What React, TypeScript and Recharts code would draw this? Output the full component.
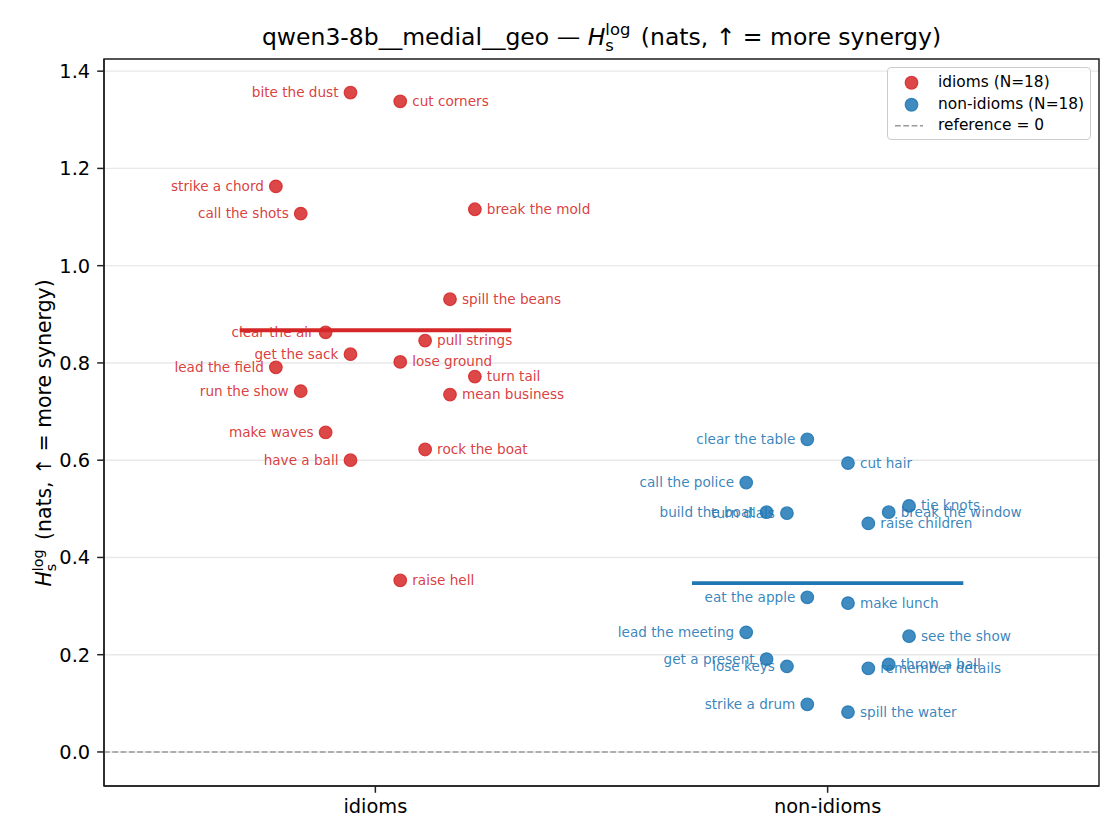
import React from 'react';
import {
  ScatterChart,
  Scatter,
  XAxis,
  YAxis,
  CartesianGrid,
  ReferenceLine,
  ReferenceArea,
} from 'recharts';

// ---------- data ----------
const categories = ['idioms', 'non-idioms'];

const idiomLabels = [
  'bite the dust', 'cut corners', 'strike a chord', 'call the shots', 'break the mold',
  'spill the beans', 'clear the air', 'pull strings', 'get the sack', 'lose ground',
  'lead the field', 'turn tail', 'run the show', 'mean business', 'make waves',
  'rock the boat', 'have a ball', 'raise hell',
];
const idiomValues = [
  1.356, 1.338, 1.163, 1.107, 1.116,
  0.931, 0.863, 0.846, 0.818, 0.802,
  0.791, 0.772, 0.742, 0.735, 0.657,
  0.622, 0.600, 0.353,
];
const idiomJitter = [
  -0.055, 0.055, -0.22, -0.165, 0.22,
  0.165, -0.11, 0.11, -0.055, 0.055,
  -0.22, 0.22, -0.165, 0.165, -0.11,
  0.11, -0.055, 0.055,
];

const nonIdiomLabels = [
  'clear the table', 'cut hair', 'call the police', 'build the boat', 'turn dials',
  'tie knots', 'break the window', 'raise children', 'eat the apple', 'make lunch',
  'lead the meeting', 'see the show', 'get a present', 'lose keys', 'throw a ball',
  'remember details', 'strike a drum', 'spill the water',
];
const nonIdiomValues = [
  0.643, 0.594, 0.554, 0.493, 0.491,
  0.506, 0.493, 0.470, 0.318, 0.306,
  0.246, 0.238, 0.191, 0.176, 0.180,
  0.172, 0.098, 0.082,
];
const nonIdiomJitter = [
  -0.045, 0.045, -0.18, -0.135, -0.09,
  0.18, 0.135, 0.09, -0.045, 0.045,
  -0.18, 0.18, -0.135, -0.09, 0.135,
  0.09, -0.045, 0.045,
];

const xTicks = [0, 1];
const yTicks = [0, 0.2, 0.4, 0.6, 0.8, 1.0, 1.2, 1.4];
const xDomain = [-0.6, 1.6];
const yDomain = [-0.07, 1.425];
const referenceValue = 0;
const meanHalfWidth = 0.3;

// ---------- styles ----------
const RED = '#d62728';
const BLUE = '#1f77b4';
const FONT = '"DejaVu Sans", "Liberation Sans", sans-serif';
const AXIS = '#222222';

type Pt = { x: number; y: number; label: string; left: boolean };

const buildPoints = (labels: string[], values: number[], jitter: number[], cat: number): Pt[] =>
  labels.map((label, i) => ({ x: cat + jitter[i], y: values[i], label, left: jitter[i] < 0 }));

const mean = (v: number[]) => v.reduce((a, b) => a + b, 0) / v.length;

const idiomPoints = buildPoints(idiomLabels, idiomValues, idiomJitter, 0);
const nonIdiomPoints = buildPoints(nonIdiomLabels, nonIdiomValues, nonIdiomJitter, 1);
const idiomMean = mean(idiomValues);
const nonIdiomMean = mean(nonIdiomValues);

const makeShape = (color: string) => (props: any) => {
  const { cx, cy, payload } = props;
  if (cx == null || cy == null) return null;
  const left = payload.left;
  return (
    <g>
      <circle
        cx={cx}
        cy={cy}
        r={6.3}
        fill={color}
        fillOpacity={0.85}
        stroke={color}
        strokeOpacity={0.85}
        strokeWidth={1.2}
      />
      <text
        x={left ? cx - 12 : cx + 12}
        y={cy}
        dy="0.33em"
        textAnchor={left ? 'end' : 'start'}
        fontSize={13.6}
        fontFamily={FONT}
        fill={color}
        fillOpacity={0.9}
      >
        {payload.label}
      </text>
    </g>
  );
};

const legendItems = [
  { kind: 'dot', color: RED, text: `${categories[0]} (N=${idiomValues.length})` },
  { kind: 'dot', color: BLUE, text: `${categories[1]} (N=${nonIdiomValues.length})` },
  { kind: 'dash', color: '#999999', text: `reference = ${referenceValue}` },
];

export default function App() {
  return (
    <div style={{ position: 'absolute', left: 0, top: 0, width: 1120, height: 840, background: '#fff' }}>
      <ScatterChart
        width={1120}
        height={840}
        margin={{ top: 59, right: 21, bottom: 14, left: 0 }}
      >
        <CartesianGrid vertical={false} stroke="#e8e8e8" strokeWidth={1.4} />
        <XAxis
          type="number"
          dataKey="x"
          domain={xDomain}
          ticks={xTicks}
          interval={0}
          allowDataOverflow
          tickFormatter={(v: number) => categories[Math.round(v)] ?? ''}
          height={40}
          tickSize={6.8}
          tickMargin={6}
          tick={{ fontSize: 19.4, fill: '#000', fontFamily: FONT }}
          axisLine={{ stroke: AXIS, strokeWidth: 1.5 }}
          tickLine={{ stroke: AXIS, strokeWidth: 1.5 }}
        />
        <YAxis
          type="number"
          dataKey="y"
          domain={yDomain}
          ticks={yTicks}
          interval={0}
          allowDataOverflow
          tickFormatter={(v: number) => v.toFixed(1)}
          width={104}
          tickSize={6.8}
          tickMargin={7}
          tick={{ fontSize: 19.4, fill: '#000', fontFamily: FONT }}
          axisLine={{ stroke: AXIS, strokeWidth: 1.5 }}
          tickLine={{ stroke: AXIS, strokeWidth: 1.5 }}
        />
        <ReferenceLine
          y={referenceValue}
          stroke="#999999"
          strokeWidth={1.5}
          strokeDasharray="5.8 2.5"
          ifOverflow="visible"
        />
        <ReferenceLine
          segment={[
            { x: 0 - meanHalfWidth, y: idiomMean },
            { x: 0 + meanHalfWidth, y: idiomMean },
          ]}
          stroke={RED}
          strokeWidth={3.9}
          ifOverflow="visible"
        />
        <ReferenceLine
          segment={[
            { x: 1 - meanHalfWidth, y: nonIdiomMean },
            { x: 1 + meanHalfWidth, y: nonIdiomMean },
          ]}
          stroke={BLUE}
          strokeWidth={3.9}
          ifOverflow="visible"
        />
        <Scatter
          name="idioms"
          data={idiomPoints}
          fill={RED}
          shape={makeShape(RED)}
          isAnimationActive={false}
        />
        <Scatter
          name="non-idioms"
          data={nonIdiomPoints}
          fill={BLUE}
          shape={makeShape(BLUE)}
          isAnimationActive={false}
        />
        <ReferenceArea
          x1={xDomain[0]}
          x2={xDomain[1]}
          y1={yDomain[0]}
          y2={yDomain[1]}
          fill="none"
          fillOpacity={0}
          stroke={AXIS}
          strokeWidth={1.5}
          ifOverflow="visible"
        />
      </ScatterChart>

      <svg
        width={1120}
        height={840}
        style={{ position: 'absolute', left: 0, top: 0, pointerEvents: 'none' }}
      >
        <text x={601.5} y={45} textAnchor="middle" fontSize={23.5} fontFamily={FONT} fill="#000">
          <tspan>qwen3-8b__medial__geo — </tspan>
          <tspan fontStyle="italic">H</tspan>
          <tspan fontSize={16.4} dy={6}>s</tspan>
          <tspan fontSize={16.4} dx={-8.5} dy={-16}>log</tspan>
          <tspan dy={10} dx={3}> (nats, ↑ = more synergy)</tspan>
        </text>
        <text
          transform="translate(51, 433) rotate(-90)"
          x={0}
          y={0}
          textAnchor="middle"
          fontSize={20.4}
          fontFamily={FONT}
          fill="#000"
        >
          <tspan fontStyle="italic">H</tspan>
          <tspan fontSize={14.3} dy={5}>s</tspan>
          <tspan fontSize={14.3} dx={-7.4} dy={-13.5}>log</tspan>
          <tspan dy={8.5} dx={3}> (nats, ↑ = more synergy)</tspan>
        </text>
      </svg>

      <div
        style={{
          position: 'absolute',
          left: 887,
          top: 67,
          width: 204,
          height: 73,
          boxSizing: 'border-box',
          border: '1.3px solid #cccccc',
          borderRadius: 4,
          background: 'rgba(255,255,255,0.8)',
          fontFamily: FONT,
          fontSize: 15.4,
          color: '#000',
        }}
      >
        {legendItems.map((it, i) => (
          <div
            key={it.text}
            style={{
              position: 'absolute',
              left: 0,
              top: 15 - 10.75 + i * 21.5,
              height: 21.5,
              width: '100%',
              display: 'flex',
              alignItems: 'center',
            }}
          >
            <svg width={50} height={21.5} style={{ flex: 'none' }}>
              {it.kind === 'dot' ? (
                <circle
                  cx={23.5}
                  cy={10.75}
                  r={6.3}
                  fill={it.color}
                  fillOpacity={0.85}
                  stroke={it.color}
                  strokeOpacity={0.85}
                  strokeWidth={1.2}
                />
              ) : (
                <line
                  x1={7}
                  x2={35}
                  y1={10.75}
                  y2={10.75}
                  stroke={it.color}
                  strokeWidth={1.5}
                  strokeDasharray="5.8 2.5"
                />
              )}
            </svg>
            <span style={{ whiteSpace: 'nowrap', lineHeight: '21.5px' }}>{it.text}</span>
          </div>
        ))}
      </div>
    </div>
  );
}
